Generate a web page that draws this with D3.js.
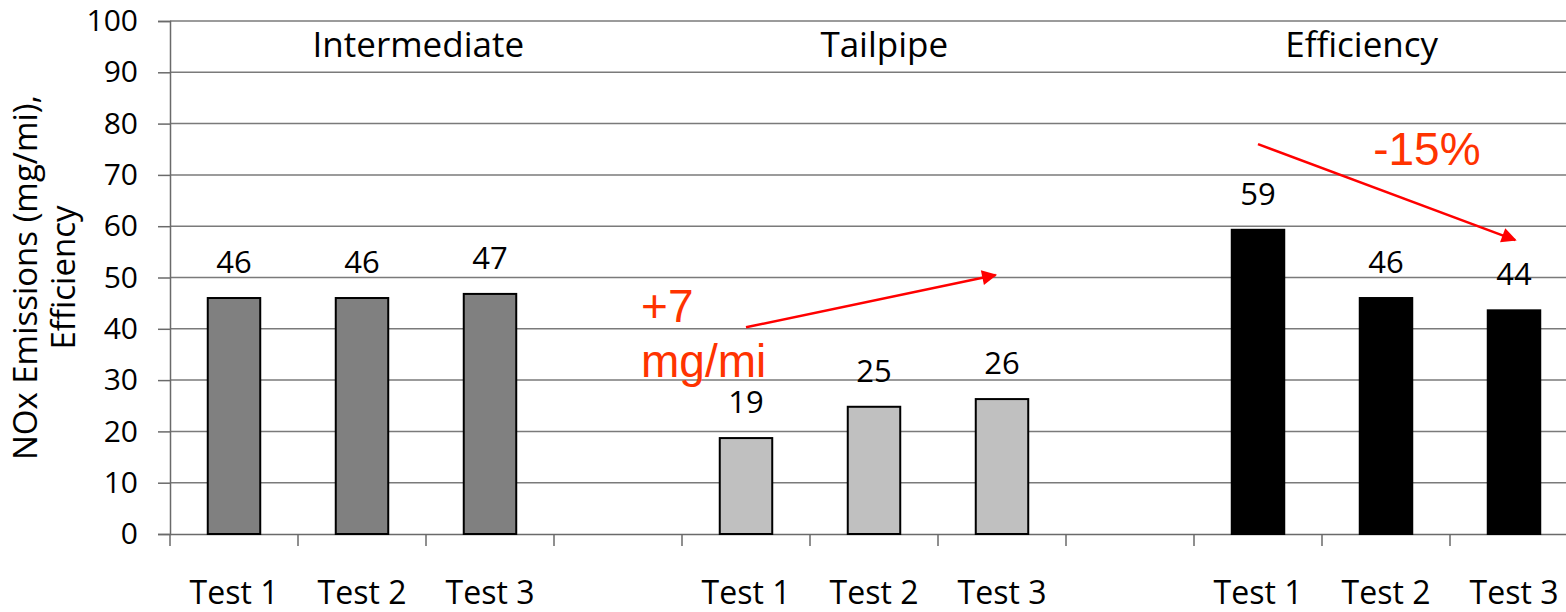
<!DOCTYPE html>
<html>
<head>
<meta charset="UTF-8">
<title>NOx Emissions</title>
<script src="https://d3js.org/d3.v7.min.js"></script>
<style>
  body { margin: 0; background: #fff; }
  svg { display: block; overflow: hidden; }
  text { font-family: "Open Sans", sans-serif; fill: #000; }
  .note { font-family: "Liberation Sans", Arial, sans-serif; fill: #ff3300; }
</style>
</head>
<body>
<div id="chart"></div>
<script>
// x slots (blank slots separate the three groups)
const slots = ["Test 1", "Test 2", "Test 3", "", "Test 1", "Test 2", "Test 3", "", "Test 1", "Test 2", "Test 3"];
const groupNames = ["Intermediate", "Tailpipe", "Efficiency"];
const groupSlots = [[0, 1, 2], [4, 5, 6], [8, 9, 10]];
const groupColors = ["#808080", "#c0c0c0", "#000000"];

const intermediateValues = [46, 46, 46.8];
const tailpipeValues = [18.7, 24.8, 26.3];
const efficiencyValues = [59.3, 46, 43.6];
const intermediateLabels = ["46", "46", "47"];
const tailpipeLabels = ["19", "25", "26"];
const efficiencyLabels = ["59", "46", "44"];

const yTicks = [0, 10, 20, 30, 40, 50, 60, 70, 80, 90, 100];

// Build the bar table
const seriesValues = [intermediateValues, tailpipeValues, efficiencyValues];
const seriesLabels = [intermediateLabels, tailpipeLabels, efficiencyLabels];
let bars = [];
groupSlots.forEach(function(s, g) {
    s.forEach(function(slot, i) {
        bars.push({ slot: slot, value: seriesValues[g][i], label: seriesLabels[g][i], color: groupColors[g] });
    });
});

const W = 1566, H = 612;
const plotLeft = 170, plotRight = 1578, plotTop = 21, plotBottom = 534;

const svg = d3.select("#chart").append("svg")
    .attr("width", W).attr("height", H);

const x = d3.scaleBand().domain(d3.range(slots.length)).range([plotLeft, plotRight]).padding(0);
// continuous slot units for annotations
const xs = d3.scaleLinear().domain([0, slots.length]).range([plotLeft, plotRight]);
const y = d3.scaleLinear().domain([0, 100]).range([plotBottom, plotTop]);

// gridlines
svg.append("g").selectAll("line")
    .data(yTicks.filter(d => d > 0))
    .join("line")
    .attr("x1", plotLeft).attr("x2", plotRight)
    .attr("y1", d => y(d)).attr("y2", d => y(d))
    .attr("stroke", "#7a7a7a").attr("stroke-width", 1.5);

// y axis
const yAxis = svg.append("g")
    .attr("transform", "translate(" + plotLeft + ",0)")
    .call(d3.axisLeft(y).tickValues(yTicks).tickSize(12).tickPadding(20));
yAxis.select(".domain").attr("stroke", "#6a6a6a").attr("stroke-width", 1.5);
yAxis.selectAll(".tick line").attr("stroke", "#6a6a6a").attr("stroke-width", 1.5);
yAxis.selectAll("text").style("font-size", "30px").style("font-family", "'Open Sans', sans-serif").attr("fill", "#000");

// x axis
const xAxis = svg.append("g")
    .attr("transform", "translate(0," + plotBottom + ")")
    .call(d3.axisBottom(x).tickSize(0).tickPadding(47).tickFormat(i => slots[i]));
xAxis.select(".domain").attr("stroke", "#6a6a6a").attr("stroke-width", 1.5);
xAxis.selectAll("text").style("font-size", "32px").style("font-family", "'Open Sans', sans-serif").attr("fill", "#000");
// boundary ticks between slots
svg.append("g").selectAll("line")
    .data(d3.range(slots.length + 1))
    .join("line")
    .attr("x1", d => xs(d)).attr("x2", d => xs(d))
    .attr("y1", plotBottom).attr("y2", plotBottom + 12)
    .attr("stroke", "#6a6a6a").attr("stroke-width", 1.5);

// bars
const barW = x.bandwidth() * 0.41;
svg.append("g").selectAll("rect")
    .data(bars)
    .join("rect")
    .attr("x", d => x(d.slot) + (x.bandwidth() - barW) / 2)
    .attr("y", d => y(d.value))
    .attr("width", barW)
    .attr("height", d => y(0) - y(d.value))
    .attr("fill", d => d.color)
    .attr("stroke", "#000").attr("stroke-width", 2);

// value labels
svg.append("g").selectAll("text")
    .data(bars)
    .join("text")
    .attr("x", d => x(d.slot) + x.bandwidth() / 2)
    .attr("y", d => y(d.value) - 25)
    .attr("text-anchor", "middle")
    .style("font-size", "31px")
    .text(d => d.label);

// group titles
const titlePos = [1.94, 5.58, 9.31];
svg.append("g").selectAll("text")
    .data(groupNames)
    .join("text")
    .attr("x", (d, i) => xs(titlePos[i]))
    .attr("y", y(93))
    .attr("text-anchor", "middle")
    .style("font-size", "35px")
    .text(d => d);

// y axis title
const yTitle = svg.append("text")
    .attr("transform", "translate(37," + ((plotTop + plotBottom) / 2) + ") rotate(-90)")
    .attr("text-anchor", "middle")
    .style("font-size", "33px");
yTitle.append("tspan").attr("x", 0).attr("dy", 0).text("NOx Emissions (mg/mi),");
yTitle.append("tspan").attr("x", 0).attr("dy", 38).text("Efficiency");

// red arrows
svg.append("defs").append("marker")
    .attr("id", "arrow")
    .attr("viewBox", "0 0 10 10")
    .attr("refX", 9).attr("refY", 5)
    .attr("markerWidth", 8).attr("markerHeight", 6)
    .attr("markerUnits", "strokeWidth")
    .attr("orient", "auto")
    .append("path").attr("d", "M0,0 L10,5 L0,10 z").attr("fill", "#ff0000");

const arrows = [
    { x1: 4.5, y1: 40.3, x2: 6.45, y2: 50.5 },
    { x1: 8.5, y1: 76, x2: 10.51, y2: 57.3 }
];
svg.append("g").selectAll("line")
    .data(arrows)
    .join("line")
    .attr("x1", d => xs(d.x1)).attr("y1", d => y(d.y1))
    .attr("x2", d => xs(d.x2)).attr("y2", d => y(d.y2))
    .attr("stroke", "#ff0000").attr("stroke-width", 2.5)
    .attr("marker-end", "url(#arrow)");

// red notes
const notes = [
    { t: "+7", x: 3.68, y: 41.3 },
    { t: "mg/mi", x: 3.68, y: 30.6 },
    { t: "-15%", x: 9.4, y: 71.9 }
];
svg.append("g").selectAll("text")
    .data(notes)
    .join("text")
    .attr("class", "note")
    .attr("x", d => xs(d.x))
    .attr("y", d => y(d.y))
    .style("font-size", "46px")
    .text(d => d.t);
</script>
</body>
</html>
